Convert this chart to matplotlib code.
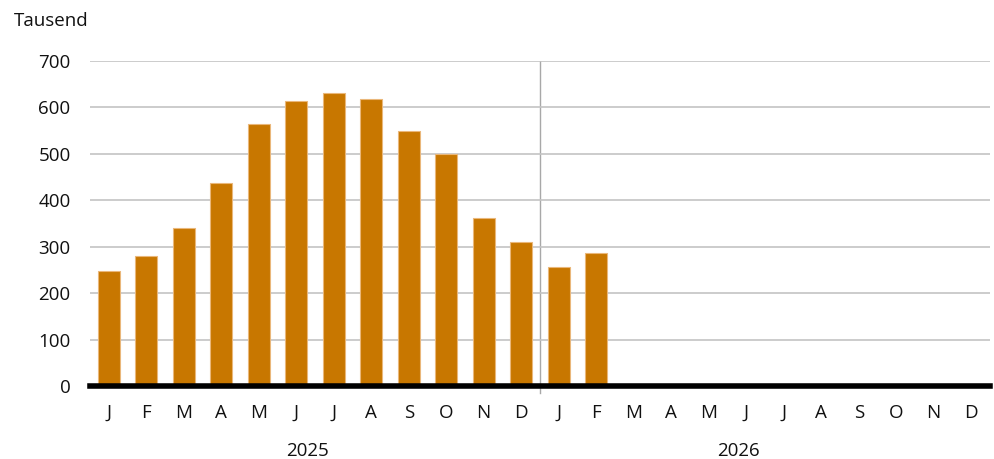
import matplotlib
matplotlib.use("Agg")
import matplotlib.pyplot as plt
import numpy as np

plt.rcParams["font.family"] = ["Open Sans", "DejaVu Sans"]

MONTHS = ["J", "F", "M", "A", "M", "J", "J", "A", "S", "O", "N", "D"] * 2
YEARS = ["2025", "2026"]
VALUES = [248, 280, 340, 437, 564, 613, 631, 618, 549, 500, 362, 310, 256, 286]
YTICKS = [0, 100, 200, 300, 400, 500, 600, 700]

BAR = "#c87700"
FS = 13.5

fig = plt.figure(figsize=(9.95, 4.59), dpi=100)
ax = fig.add_axes([90 / 995, (459 - 386) / 459, 900 / 995, 325 / 459])

x = np.arange(len(VALUES))
ax.bar(x, VALUES, width=0.58, color=BAR, edgecolor="#eab77a", lw=0.8, zorder=2)

ax.set_xlim(-0.5, len(MONTHS) - 0.5)
ax.set_ylim(0, 700)
ax.set_yticks(YTICKS)
ax.set_yticklabels([str(t) for t in YTICKS], fontsize=FS, color="#111")
ax.yaxis.grid(True, color="#c4c4c4", lw=1.2, zorder=0)
ax.tick_params(axis="y", length=0, pad=14)
ax.set_xticks(np.arange(len(MONTHS)))
ax.set_xticklabels(MONTHS, fontsize=FS, color="#111")
ax.tick_params(axis="x", length=0, pad=13)
for sp in ax.spines.values():
    sp.set_visible(False)

# thick zero line
ax.axhline(0, color="black", lw=4, zorder=3, clip_on=False)
# year separator
ax.plot([11.5, 11.5], [0, 700], color="#a8a8a8", lw=1, zorder=1)
ax.plot([11.5, 11.5], [-14, 0], color="#a8a8a8", lw=1, zorder=1, clip_on=False)

for i, yr in enumerate(YEARS):
    ax.text(i * 11.5 + 5.3, -0.2, yr, transform=ax.get_xaxis_transform(),
            ha="center", va="center", fontsize=FS, color="#111")

fig.text(14 / 995, 1 - 21 / 459, "Tausend", ha="left", va="center", fontsize=FS, color="#111")

fig.savefig("out.png", dpi=100)
